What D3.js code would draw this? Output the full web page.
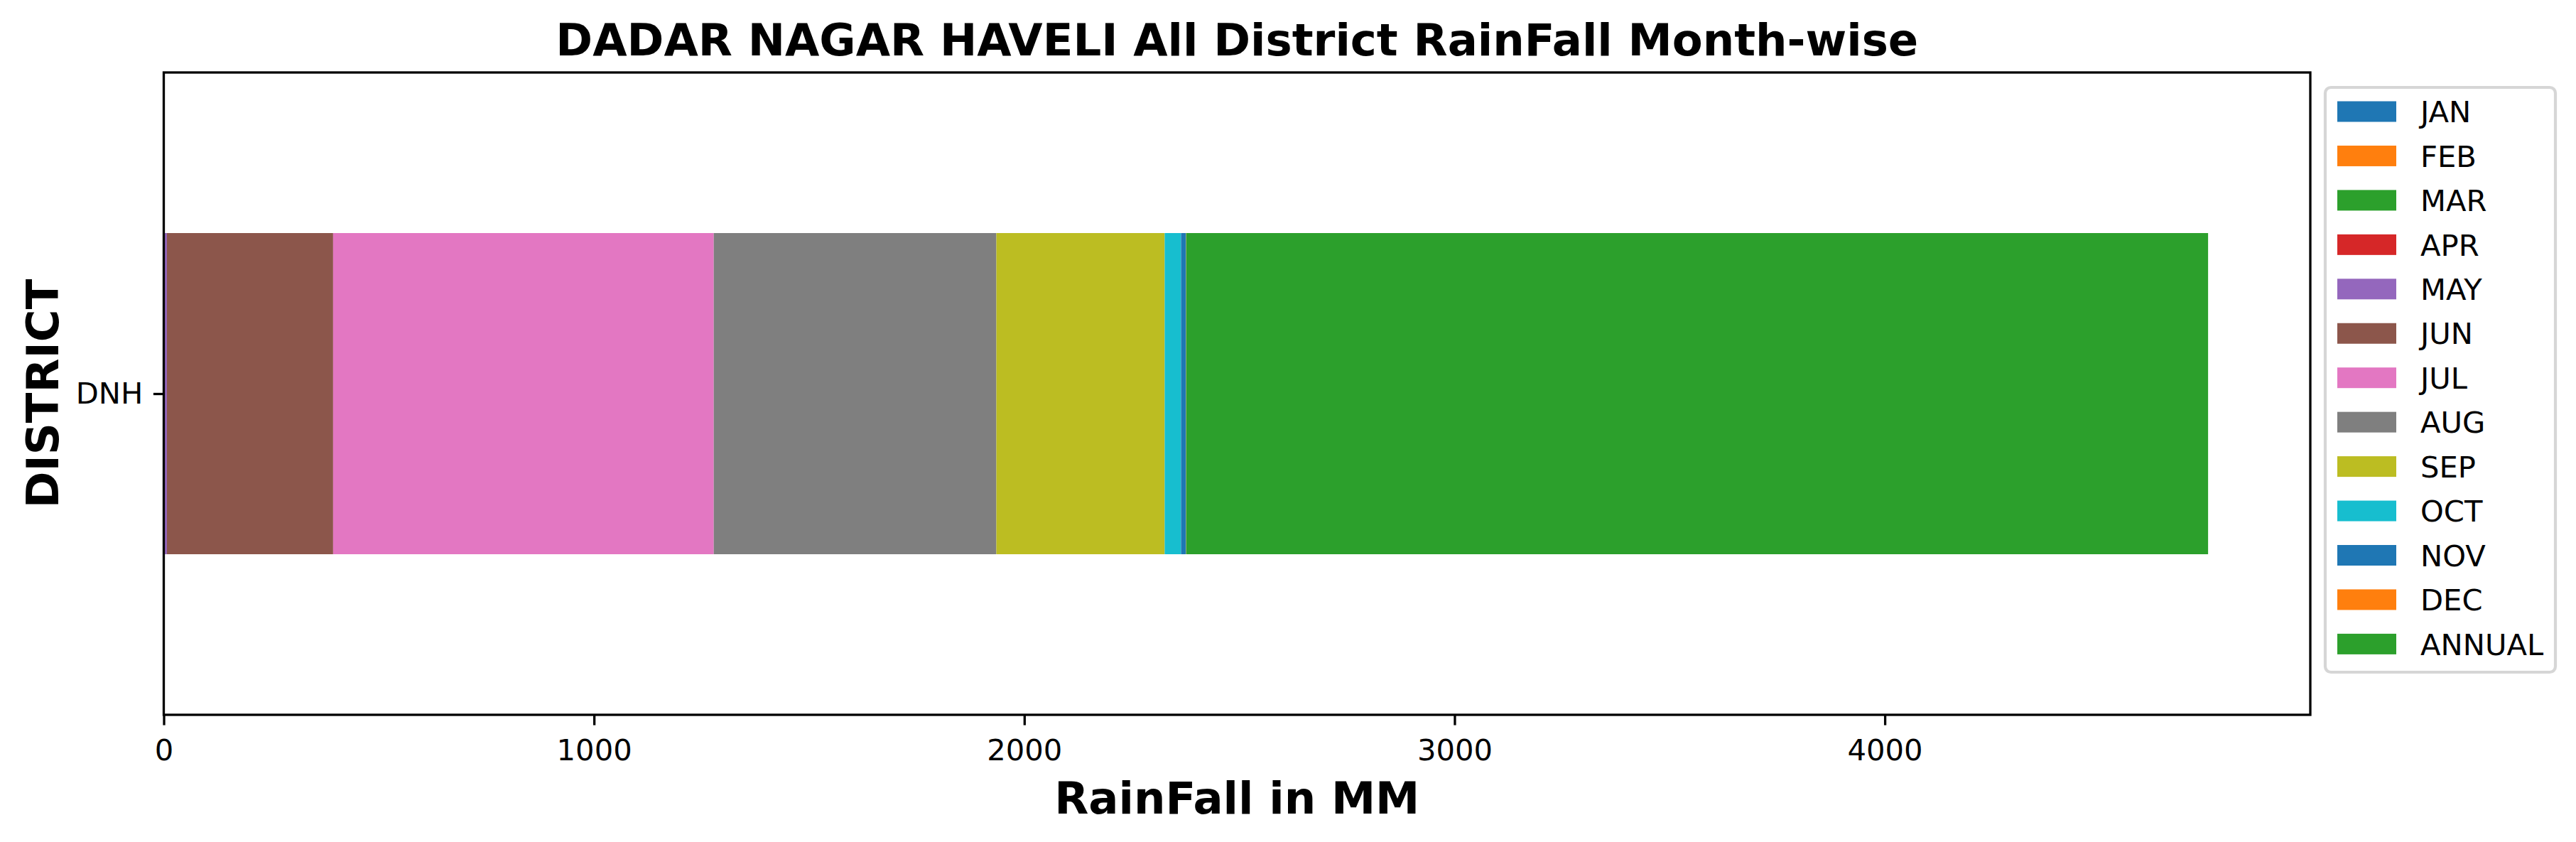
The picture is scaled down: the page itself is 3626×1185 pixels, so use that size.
<!DOCTYPE html>
<html>
<head>
<meta charset="utf-8">
<script src="https://cdn.jsdelivr.net/npm/d3@7"></script>
<style>
  html, body { margin: 0; padding: 0; background: #ffffff; }
  svg { display: block; font-family: "DejaVu Sans", sans-serif; }
</style>
</head>
<body>
<svg id="chart" width="3626" height="1185"></svg>
<script>
// ---- data ----
const categories = ["DNH"];
const seriesNames = ["JAN","FEB","MAR","APR","MAY","JUN","JUL","AUG","SEP","OCT","NOV","DEC","ANNUAL"];
const JAN = [0.8];
const FEB = [0.5];
const MAR = [0.3];
const APR = [0.6];
const MAY = [5.2];
const JUN = [386.2];
const JUL = [884.7];
const AUG = [656.8];
const SEP = [391.2];
const OCT = [38.0];
const NOV = [11.5];
const DEC = [0.5];
const ANNUAL = [2375.0];
const xTicks = [0, 1000, 2000, 3000, 4000];
const colors = ["#1f77b4","#ff7f0e","#2ca02c","#d62728","#9467bd","#8c564b","#e377c2","#7f7f7f","#bcbd22","#17becf","#1f77b4","#ff7f0e","#2ca02c"];
const titleText = "DADAR NAGAR HAVELI All District RainFall Month-wise";
const xLabel = "RainFall in MM";
const yLabel = "DISTRICT";

const seriesValues = [JAN,FEB,MAR,APR,MAY,JUN,JUL,AUG,SEP,OCT,NOV,DEC,ANNUAL];

// ---- layout ----
const svg = d3.select("#chart");
const L = 230.5, R = 3252, T = 102, B = 1006;
const fs = 41.7, fsBig = 62.5, lw = 3.3;

// stacked rows
const rows = categories.map((c, i) => {
  const o = { cat: c, idx: i };
  seriesNames.forEach((s, k) => o[s] = seriesValues[k][i]);
  return o;
});
const stack = d3.stack().keys(seriesNames)(rows);
const maxTotal = d3.max(stack[stack.length - 1], d => d[1]);

const x = d3.scaleLinear().domain([0, maxTotal * 1.05]).range([L, R]);
const y = d3.scaleLinear().domain([-0.5, categories.length - 0.5]).range([B, T]);
const barH = 0.5;

// bars
const g = svg.append("g");
stack.forEach((layer, k) => {
  g.selectAll(null).data(layer).enter().append("rect")
    .attr("x", d => x(d[0]))
    .attr("width", d => Math.max(0, x(d[1]) - x(d[0])))
    .attr("y", (d, i) => y(i + barH / 2))
    .attr("height", (d, i) => y(i - barH / 2) - y(i + barH / 2))
    .attr("fill", colors[k]);
});

// x axis
const xAxis = svg.append("g").attr("transform", `translate(0,${B})`)
  .call(d3.axisBottom(x).tickValues(xTicks).tickFormat(d3.format("d")).tickSize(14.6).tickPadding(19.8));
xAxis.select(".domain").remove();
xAxis.selectAll(".tick line").attr("stroke", "#000").attr("stroke-width", lw);
xAxis.selectAll(".tick text").attr("fill", "#000").style("font-size", fs + "px").style("font-family", "DejaVu Sans");

// y axis
const yAxis = svg.append("g").attr("transform", `translate(${L},0)`)
  .call(d3.axisLeft(y).tickValues(categories.map((c, i) => i)).tickFormat(i => categories[i]).tickSize(14.6).tickPadding(14.6));
yAxis.select(".domain").remove();
yAxis.selectAll(".tick line").attr("stroke", "#000").attr("stroke-width", lw);
yAxis.selectAll(".tick text").attr("fill", "#000").style("font-size", fs + "px").style("font-family", "DejaVu Sans");

// spines
svg.append("rect").attr("x", L).attr("y", T).attr("width", R - L).attr("height", B - T)
  .attr("fill", "none").attr("stroke", "#000").attr("stroke-width", lw);

// title & labels
svg.append("text").attr("x", (L + R) / 2).attr("y", 78).attr("text-anchor", "middle")
  .style("font-size", fsBig + "px").style("font-weight", "bold").text(titleText);
svg.append("text").attr("x", (L + R) / 2).attr("y", 1145).attr("text-anchor", "middle")
  .style("font-size", fsBig + "px").style("font-weight", "bold").text(xLabel);
svg.append("text").attr("transform", `translate(82,${(T + B) / 2}) rotate(-90)`).attr("text-anchor", "middle")
  .style("font-size", fsBig + "px").style("font-weight", "bold").text(yLabel);

// legend
const lg = svg.append("g");
lg.append("rect").attr("x", 3273).attr("y", 123).attr("width", 324).attr("height", 823)
  .attr("rx", 8).attr("ry", 8).attr("fill", "#fff").attr("fill-opacity", 0.8)
  .attr("stroke", "#cccccc").attr("stroke-opacity", 0.8).attr("stroke-width", 4.2);
const step = 62.45;
seriesNames.forEach((s, k) => {
  const cy = 157 + k * step;
  lg.append("rect").attr("x", 3290).attr("y", cy - 14.5).attr("width", 83).attr("height", 29).attr("fill", colors[k]);
  lg.append("text").attr("x", 3407).attr("y", cy + 15.2).style("font-size", fs + "px").attr("fill", "#000").text(s);
});
</script>
</body>
</html>
